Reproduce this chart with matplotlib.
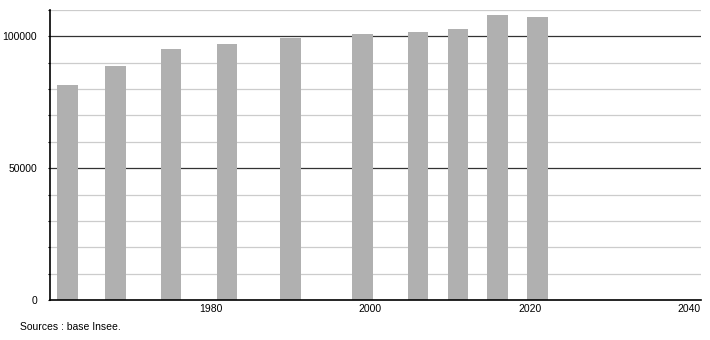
import matplotlib
matplotlib.use("Agg")
import matplotlib.pyplot as plt

plt.rcParams['font.family'] = ['Liberation Sans', 'DejaVu Sans']

years = [1962, 1968, 1975, 1982, 1990, 1999, 2006, 2011, 2016, 2021]
population = [81400, 88700, 95050, 96950, 99250, 100750, 101500, 102900, 108000, 107200]
xticks = [1980, 2000, 2020, 2040]
yticks = [0, 50000, 100000]

fig = plt.figure(figsize=(7.1, 3.4), dpi=100)
ax = fig.add_axes([50 / 710, 1 - 300 / 340, 651 / 710, 290 / 340])

ax.set_xlim(1959.8, 2041.5)
ax.set_ylim(0, 110000)

# light grid every 10000, darker every 50000
for y in range(10000, 110001, 10000):
    if y % 50000 == 0:
        ax.axhline(y, color='#333333', lw=0.9, zorder=1)
    else:
        ax.axhline(y, color='#cccccc', lw=0.9, zorder=1)

ax.bar(years, population, width=2.6, color='#b0b0b0', zorder=2)

ax.set_yticks(yticks)
ax.set_yticks(range(0, 110001, 10000), minor=True)
ax.set_xticks(xticks)
ax.tick_params(axis='y', which='both', direction='out', length=1.8, width=0.8,
               labelsize=7.5, pad=7.5, color='black')
ax.tick_params(axis='x', length=0, labelsize=7.5, pad=3)

for s in ['top', 'right']:
    ax.spines[s].set_visible(False)
for s in ['left', 'bottom']:
    ax.spines[s].set_color('black')
    ax.spines[s].set_linewidth(1.2)
    ax.spines[s].set_zorder(3)

fig.text(20 / 710, 1 - 327 / 340, 'Sources : base Insee.', fontsize=7.5,
         va='center', ha='left')

fig.savefig('out.png', dpi=100)
